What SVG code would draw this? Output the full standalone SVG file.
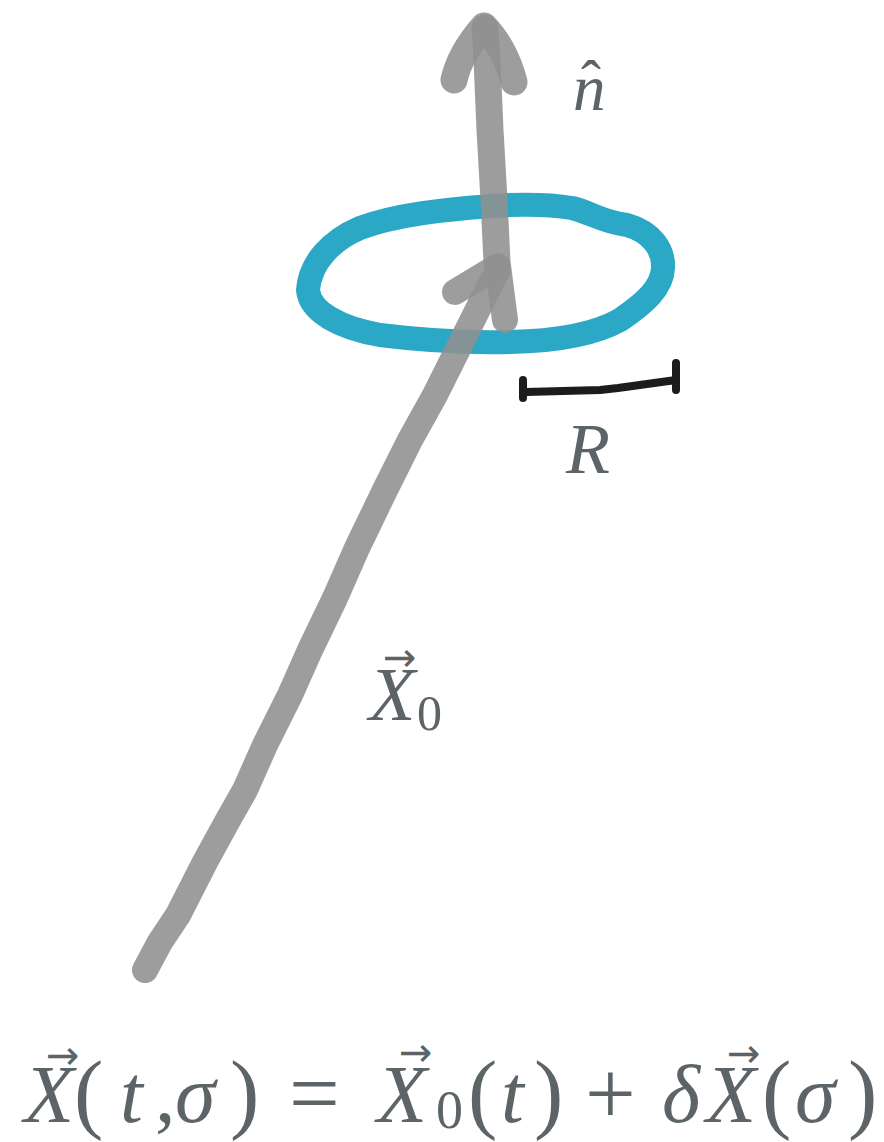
<svg xmlns="http://www.w3.org/2000/svg" width="884" height="1142" viewBox="0 0 884 1142">
<rect width="884" height="1142" fill="#ffffff"/>
<g id="ring">
<path d="M308,290 C310,262 332,240 360,228 C395,215 440,210 490,206 C520,204 548,204 572,208 C592,213 602,222 627,225 C652,232 664,250 663,268 C662,288 645,303 620,320 C595,334 560,341 510,342 C470,343 420,340 380,335 C340,328 310,312 308,290 Z" fill="none" stroke="#2ba8c6" stroke-width="24" stroke-linejoin="round"/>
</g>
<g id="connectors" fill="none" stroke="#8f8f8f" stroke-opacity="0.88" stroke-linecap="round" stroke-linejoin="round">
<path stroke-width="26" d="M145,970 L160,942 L178,915 L205,862 L228,820 L245,790 L265,745 L290,695 L310,650 L335,598 L357,548 L385,490 L410,440 L435,395 L460,345 L480,305 L498,270"/>
<path stroke-width="26" d="M455,292 L498,266 L505,320"/>
<path stroke-width="27" d="M497,262 L494,200 L490,130 L487,60 L485,28"/>
<path stroke-width="27" d="M454,80 C458,62 470,42 484,26 C496,38 508,58 514,82"/>
</g>
<g id="radius">
<path d="M523,380 L523,398 M526,392 L600,390 L618,388 L676,380 M676,363 L676,390" fill="none" stroke="#1c1c1c" stroke-width="8" stroke-linecap="round" stroke-linejoin="round"/>
</g>
<g id="label-n">
<text x="573" y="110" font-family="Times New Roman" font-size="65" font-style="italic" fill="#5d6468">n<tspan x="581" y="101" font-size="60" font-style="normal">ˆ</tspan></text>
</g>
<g id="label-R">
<text x="566" y="473" font-family="Times New Roman" font-size="72" font-style="italic" fill="#5d6468">R</text>
</g>
<g id="label-X0">
<text x="369" y="720" font-family="Times New Roman" font-size="76" font-style="italic" fill="#5d6468">X<tspan x="383" y="671" font-size="40" font-style="normal" font-family="DejaVu Sans">→</tspan><tspan x="417" y="730" font-size="50" font-style="normal">0</tspan></text>
</g>
<g id="equation">
<text x="24" y="1122" font-family="Times New Roman" font-size="82" font-style="italic" fill="#5d6468">X<tspan x="46" y="1069" font-size="40" font-style="normal" font-family="DejaVu Sans">→</tspan></text>
<text x="74" y="1122" font-family="Times New Roman" font-size="88" fill="#5d6468">(</text>
<text x="120" y="1122" font-family="Times New Roman" font-size="82" font-style="italic" fill="#5d6468">t</text>
<text x="155" y="1122" font-family="Times New Roman" font-size="82" fill="#5d6468">,</text>
<text x="175" y="1122" font-family="Times New Roman" font-size="82" font-style="italic" fill="#5d6468">σ</text>
<text x="230" y="1122" font-family="Times New Roman" font-size="88" fill="#5d6468">)</text>
<text x="289" y="1124" font-family="Times New Roman" font-size="90" fill="#5d6468">=</text>
<text x="377" y="1122" font-family="Times New Roman" font-size="82" font-style="italic" fill="#5d6468">X<tspan x="399" y="1066" font-size="40" font-style="normal" font-family="DejaVu Sans">→</tspan><tspan x="436" y="1128" font-size="54" font-style="normal">0</tspan></text>
<text x="468" y="1122" font-family="Times New Roman" font-size="88" fill="#5d6468">(</text>
<text x="501" y="1122" font-family="Times New Roman" font-size="82" font-style="italic" fill="#5d6468">t</text>
<text x="534" y="1122" font-family="Times New Roman" font-size="88" fill="#5d6468">)</text>
<text x="585" y="1124" font-family="Times New Roman" font-size="90" fill="#5d6468">+</text>
<text x="662" y="1122" font-family="Times New Roman" font-size="82" font-style="italic" fill="#5d6468">δ<tspan x="706" y="1122">X</tspan><tspan x="727" y="1067" font-size="40" font-style="normal" font-family="DejaVu Sans">→</tspan></text>
<text x="762" y="1122" font-family="Times New Roman" font-size="88" fill="#5d6468">(</text>
<text x="795" y="1122" font-family="Times New Roman" font-size="82" font-style="italic" fill="#5d6468">σ</text>
<text x="848" y="1122" font-family="Times New Roman" font-size="88" fill="#5d6468">)</text>
</g>
</svg>
